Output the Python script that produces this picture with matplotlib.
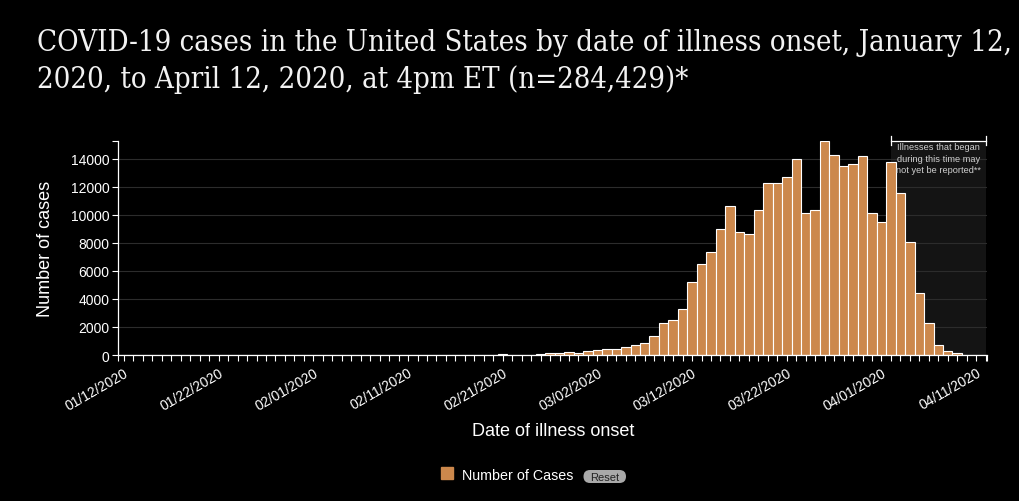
import matplotlib
matplotlib.use('Agg')
import matplotlib.pyplot as plt
import matplotlib.dates as mdates
from matplotlib.patches import Rectangle, FancyBboxPatch
from matplotlib import font_manager
import pandas as pd

# ---------------- data ----------------
start_date = '2020-01-12'
end_date = '2020-04-12'
dates = pd.date_range(start_date, end_date, freq='D')
cases = [
    1, 0, 1, 2, 1, 2, 1, 3, 2, 2,          # Jan 12-21
    3, 2, 3, 4, 3, 4, 3, 5, 4, 5,          # Jan 22-31
    4, 5, 6, 5, 6, 7, 6, 8, 7, 8,          # Feb 1-10
    9, 8, 10, 9, 11, 12, 12, 14, 16, 20,   # Feb 11-20
    60, 15, 35, 35, 40, 110, 120, 220, 110, 320,      # Feb 21 - Mar 1
    330, 400, 400, 550, 700, 830, 1330, 2260, 2470, 3260,   # Mar 2-11
    5190, 6480, 7330, 9000, 10620, 8760, 8620, 10360, 12260, 12260,  # Mar 12-21
    12690, 13980, 10120, 10350, 15260, 14240, 13480, 13620, 14170, 10120,  # Mar 22-31
    9480, 13750, 11530, 8050, 4400, 2260, 690, 310, 120, 30,  # Apr 1-10
    5, 0,                                   # Apr 11-12
]
label_dates = pd.date_range(start_date, end_date, freq='10D')
y_ticks = [0, 2000, 4000, 6000, 8000, 10000, 12000, 14000]
unreported_start = '2020-04-02'
unreported_end = '2020-04-12'
note_lines = ['Illnesses that began', 'during this time may', 'not yet be reported**']
title_lines = ['COVID-19 cases in the United States by date of illness onset, January 12,',
               '2020, to April 12, 2020, at 4pm ET (n=284,429)*']
series_name = 'Number of Cases'

# ---------------- style ----------------
W, H = 1020, 502
BAR = '#cc884c'
SANS = ['Liberation Sans', 'DejaVu Sans']
plt.rcParams['font.family'] = SANS

# serif title font: condensed DejaVu Serif if present
serif_family = 'DejaVu Serif'
serif_stretch = 'normal'
names = {f.name for f in font_manager.fontManager.ttflist}
if 'DejaVu Serif Condensed' in names:
    serif_family = 'DejaVu Serif Condensed'
else:
    for f in font_manager.fontManager.ttflist:
        if f.name == 'DejaVu Serif' and 'Condensed' in f.fname and 'Bold' not in f.fname and 'Italic' not in f.fname:
            serif_stretch = 'condensed'
            break

fig = plt.figure(figsize=(W / 100, H / 100), dpi=100, facecolor='black')
ax_left, ax_right, ax_top, ax_bottom = 118.3, 987.5, 142.0, 356.0
ax = fig.add_axes([ax_left / W, 1 - ax_bottom / H, (ax_right - ax_left) / W, (ax_bottom - ax_top) / H])
ax.set_facecolor('black')

x = mdates.date2num(dates)
ymax = max(cases)
ax.bar(x, cases, width=1.0, color=BAR, edgecolor='white', linewidth=0.8, zorder=3)
ax.set_ylim(0, ymax)
x0, x1 = x[0] - 0.6, x[-1] + 0.2
ax.set_xlim(x0, x1)

for v in y_ticks[1:]:
    ax.axhline(v, color='#2c2c2c', lw=0.8, zorder=1)

xs = mdates.date2num(pd.Timestamp(unreported_start))
xe = mdates.date2num(pd.Timestamp(unreported_end))
ax.axvspan(xs, xe, color='#141414', zorder=0.5, lw=0)
tr = ax.get_xaxis_transform()
axh = ax_bottom - ax_top
ax.plot([xs, xe], [1.0, 1.0], transform=tr, color='white', lw=0.9, clip_on=False, zorder=4)
for xx in (xs, xe):
    ax.plot([xx, xx], [1 + 5 / axh, 1 - 4.5 / axh], transform=tr, color='white', lw=0.9,
            clip_on=False, zorder=4)
for i, line in enumerate(note_lines):
    ypx = 147.5 + i * 11.6
    ax.text((xs + xe) / 2, (ax_bottom - ypx) / axh, line, transform=tr, ha='center', va='center',
            fontsize=6.7, color='#cfcfcf', zorder=5)

# axes / ticks
for s in ('top', 'right'):
    ax.spines[s].set_visible(False)
for s in ('left', 'bottom'):
    ax.spines[s].set_color('white')
    ax.spines[s].set_linewidth(0.9)
    ax.spines[s].set_zorder(6)

ax.set_xticks(x)
label_set = set(label_dates)
ax.set_xticklabels([d.strftime('%m/%d/%Y') if d in label_set else '' for d in dates],
                   rotation=30, ha='right', rotation_mode='anchor')
ax.set_xticks([x0, x1], minor=True)
ax.set_yticks(y_ticks)
ax.set_yticklabels([str(v) for v in y_ticks])
ax.set_yticks([ymax], minor=True)
ax.tick_params(axis='both', which='both', colors='white', width=0.8, length=4.3)
ax.tick_params(axis='x', which='major', labelsize=10, pad=3)
ax.tick_params(axis='y', which='major', labelsize=10, pad=2.2)
for lab in ax.get_xticklabels():
    lab.set_va('top')

fig.text(553 / W, 1 - 432 / H, 'Date of illness onset', ha='center', va='center',
         fontsize=13, color='white')
fig.text(46 / W, 1 - 249 / H, 'Number of cases', ha='center', va='center', rotation=90,
         fontsize=13, color='white')

# title, scaled to the reference width
fig.canvas.draw()
renderer = fig.canvas.get_renderer()
t1 = fig.text(37 / W, 1 - 51 / H, title_lines[0], ha='left', va='baseline', fontsize=20,
              color='#f2f2f2', family=serif_family, stretch=serif_stretch)
w = t1.get_window_extent(renderer).width
fs = 20 * 972 / w
t1.set_fontsize(fs)
fig.text(37 / W, 1 - 88 / H, title_lines[1], ha='left', va='baseline', fontsize=fs,
         color='#f2f2f2', family=serif_family, stretch=serif_stretch)

# legend
ov = fig.add_axes([0, 0, 1, 1], zorder=10)
ov.set_xlim(0, W)
ov.set_ylim(H, 0)
ov.axis('off')
ov.patch.set_alpha(0)
ov.add_patch(Rectangle((441, 467.5), 12.5, 12.5, color=BAR))
ov.text(462, 476, series_name, ha='left', va='center', fontsize=10.3, color='white')
ov.add_patch(FancyBboxPatch((583.5, 471), 42.5, 13, boxstyle='round,pad=0,rounding_size=6.5',
                            color='#a9a9a9', lw=0))
ov.text(604.8, 477.6, 'Reset', ha='center', va='center', fontsize=8, color='#222222')

fig.savefig('out.png', dpi=100, facecolor='black')
